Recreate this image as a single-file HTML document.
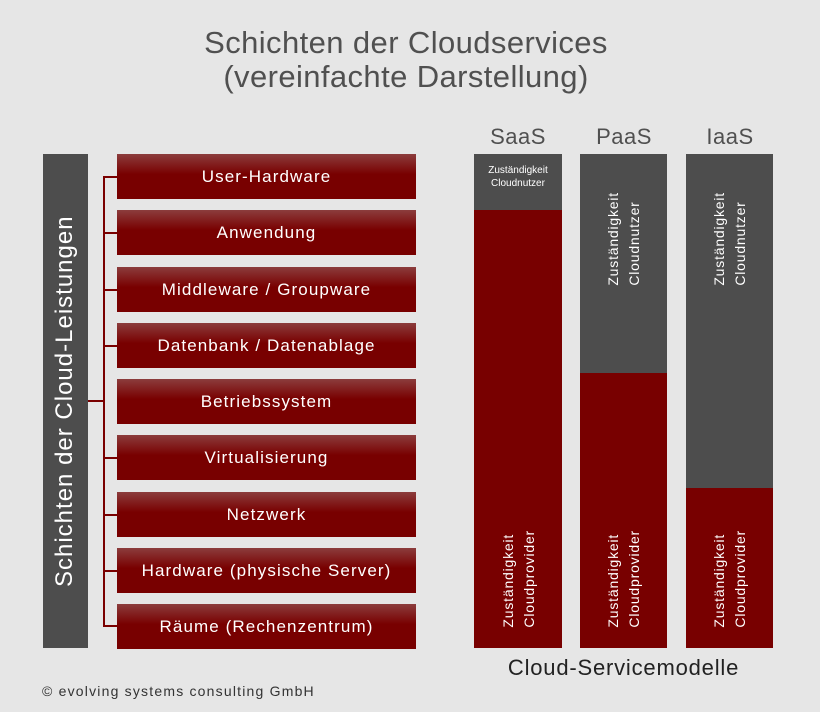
<!DOCTYPE html>
<html><head><meta charset="utf-8"><style>
body{margin:0;width:820px;height:712px;background:#e6e6e6;position:relative;overflow:hidden;font-family:"Liberation Sans","DejaVu Sans",sans-serif;}
.a{position:absolute}
.t{color:#505050;font-size:31px;letter-spacing:0.4px;width:820px;left:-4px;text-align:center;line-height:34px}
.box{position:absolute;left:117px;width:299px;height:45px;background:linear-gradient(#8c3c3c 0%,#780000 45%,#780000 100%);color:#fff;font-size:17px;letter-spacing:1.1px;line-height:45px;text-align:center}
.col{position:absolute;width:88px;top:154px;height:494px;background:#780000}
.g{position:absolute;left:0;top:0;width:100%;background:#4d4d4d}
.v{position:absolute;writing-mode:vertical-rl;transform:rotate(180deg);color:#fff;font-size:14px;letter-spacing:0.8px;line-height:21px;white-space:nowrap}
.h{position:absolute;top:124px;width:88px;text-align:center;color:#505050;font-size:22px;letter-spacing:0.5px}
</style></head><body>
<div class="a t" style="top:26px">Schichten der Cloudservices</div>
<div class="a t" style="top:60px">(vereinfachte Darstellung)</div>

<div class="a" style="left:43px;top:154px;width:45px;height:494px;background:#4d4d4d"></div>
<div class="v" style="left:50px;top:154px;height:494px;font-size:24px;letter-spacing:1px;line-height:30px;text-align:center">Schichten der Cloud-Leistungen</div>

<div class="a" style="left:88px;top:400px;width:15px;height:2px;background:#7a0000"></div>
<div class="a" style="left:103px;top:176px;width:2px;height:451px;background:#7a0000"></div>
<div class="a" style="left:103px;top:176px;width:14px;height:2px;background:#7a0000"></div>
<div class="a" style="left:103px;top:232px;width:14px;height:2px;background:#7a0000"></div>
<div class="a" style="left:103px;top:289px;width:14px;height:2px;background:#7a0000"></div>
<div class="a" style="left:103px;top:345px;width:14px;height:2px;background:#7a0000"></div>
<div class="a" style="left:103px;top:457px;width:14px;height:2px;background:#7a0000"></div>
<div class="a" style="left:103px;top:514px;width:14px;height:2px;background:#7a0000"></div>
<div class="a" style="left:103px;top:570px;width:14px;height:2px;background:#7a0000"></div>
<div class="a" style="left:103px;top:625px;width:14px;height:2px;background:#7a0000"></div>

<div class="box" style="top:154px">User-Hardware</div>
<div class="box" style="top:210px">Anwendung</div>
<div class="box" style="top:267px">Middleware / Groupware</div>
<div class="box" style="top:323px">Datenbank / Datenablage</div>
<div class="box" style="top:379px">Betriebssystem</div>
<div class="box" style="top:435px">Virtualisierung</div>
<div class="box" style="top:492px">Netzwerk</div>
<div class="box" style="top:548px">Hardware (physische Server)</div>
<div class="box" style="top:604px">Räume (Rechenzentrum)</div>

<div class="h" style="left:474px">SaaS</div>
<div class="h" style="left:580px">PaaS</div>
<div class="h" style="left:686px">IaaS</div>

<div class="col" style="left:474px">
 <div class="g" style="height:56px"><div style="color:#fff;font-size:10px;line-height:13px;text-align:center;padding-top:10px">Zuständigkeit<br>Cloudnutzer</div></div>
 <div class="v" style="left:24px;bottom:20px">Zuständigkeit<br>Cloudprovider</div>
</div>
<div class="col" style="left:580px;width:87px">
 <div class="g" style="height:219px"><div class="v" style="left:23px;top:38px">Zuständigkeit<br>Cloudnutzer</div></div>
 <div class="v" style="left:23px;bottom:20px">Zuständigkeit<br>Cloudprovider</div>
</div>
<div class="col" style="left:686px;width:87px">
 <div class="g" style="height:334px"><div class="v" style="left:23px;top:38px">Zuständigkeit<br>Cloudnutzer</div></div>
 <div class="v" style="left:23px;bottom:20px">Zuständigkeit<br>Cloudprovider</div>
</div>

<div class="a" style="left:454px;top:655px;width:339px;text-align:center;font-size:22px;letter-spacing:0.8px;color:#222">Cloud-Servicemodelle</div>
<div class="a" style="left:42px;top:683px;font-size:14px;letter-spacing:1.2px;color:#333">© evolving systems consulting GmbH</div>
</body></html>
